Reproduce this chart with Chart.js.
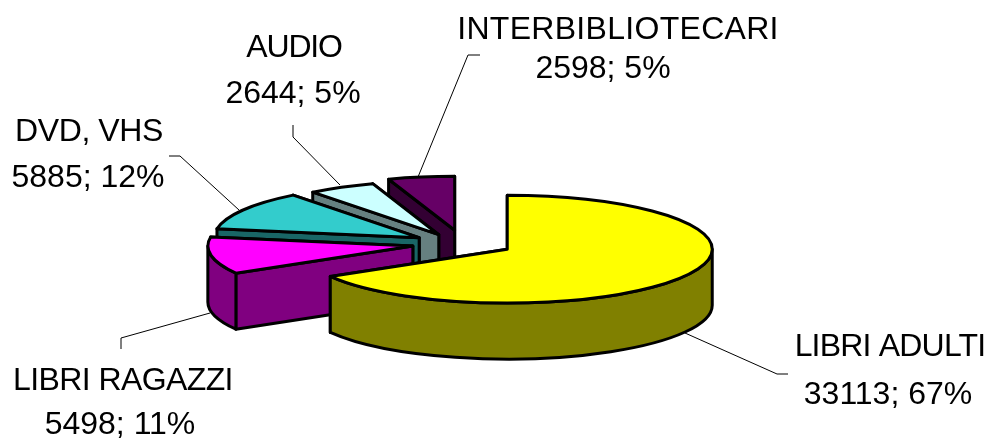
<!DOCTYPE html>
<html>
<head>
<meta charset="utf-8">
<style>html,body{margin:0;padding:0;background:#fff}canvas{display:block}</style>
<script src="https://cdn.jsdelivr.net/npm/chart.js@4"></script>
</head>
<body>
<canvas id="c" width="990" height="441"></canvas>
<script>
const categories = ['LIBRI ADULTI', 'LIBRI RAGAZZI', 'DVD, VHS', 'AUDIO', 'INTERBIBLIOTECARI'];
const values = [33113, 5498, 5885, 2644, 2598];
const topColors = ['#FFFF00', '#FF00FF', '#33CCCC', '#CCFFFF', '#660066'];
const wallColors = ['#808000', '#800080', '#196666', '#668080', '#330033'];

const TILT = 0.263, DEPTH = 56, EXPLODE = 51, RADIUS = 205;
const sliceDrop = [0, 1, 2, 4, 1];
const labelPlaces = [
  [[890, 347], [888, 395]],
  [[123, 381], [120, 425]],
  [[89, 132], [88, 178]],
  [[294, 48], [293, 94]],
  [[618, 30], [603, 69]]
];
const nameSpacing = [-0.8, -0.6, -0.4, -1.2, 0.3];
const leaders = [
  [[685, 333], [777, 374], [788, 374]],
  [[210, 313], [121, 338], [121, 349]],
  [[239, 210], [180, 156], [169, 156]],
  [[340, 185], [293, 137], [293, 125]],
  [[418, 177], [468, 55], [480, 55]]
];

const total = values.reduce((a, b) => a + b, 0);

const pie3d = {
  id: 'pie3d',
  beforeDatasetsDraw(chart) {
    const ctx = chart.ctx;
    const arcs = chart.getDatasetMeta(0).data;
    for (let i = arcs.length - 1; i >= 0; i--) {
      const arc = arcs[i];
      const s = arc.startAngle, e = arc.endAngle, r = arc.outerRadius;
      const mid = (s + e) / 2;
      const X = arc.x + Math.cos(mid) * EXPLODE;
      const Y = arc.y + Math.sin(mid) * EXPLODE * TILT + sliceDrop[i];
      const rim = a => [X + r * Math.cos(a), Y + r * TILT * Math.sin(a)];
      ctx.save();
      ctx.lineJoin = 'round';
      ctx.lineWidth = 3;
      ctx.strokeStyle = '#000';
      ctx.fillStyle = wallColors[i];
      for (const a of [e, s]) {
        const p = rim(a);
        ctx.beginPath();
        ctx.moveTo(X, Y);
        ctx.lineTo(p[0], p[1]);
        ctx.lineTo(p[0], p[1] + DEPTH);
        ctx.lineTo(X, Y + DEPTH);
        ctx.closePath();
        ctx.fill();
        ctx.stroke();
      }
      const a0 = Math.max(s, 0), a1 = Math.min(e, Math.PI);
      if (a1 > a0) {
        ctx.beginPath();
        ctx.ellipse(X, Y, r, r * TILT, 0, a0, a1);
        ctx.ellipse(X, Y + DEPTH, r, r * TILT, 0, a1, a0, true);
        ctx.closePath();
        ctx.fill();
        ctx.stroke();
      }
      ctx.save();
      ctx.translate(X, Y);
      ctx.scale(1, TILT);
      ctx.translate(-arc.x, -arc.y);
      arc.draw(ctx);
      ctx.restore();
      ctx.beginPath();
      ctx.moveTo(X, Y);
      ctx.ellipse(X, Y, r, r * TILT, 0, s, e);
      ctx.closePath();
      ctx.stroke();
      ctx.restore();
    }
    return false;
  },
  afterDraw(chart) {
    const ctx = chart.ctx;
    ctx.save();
    ctx.strokeStyle = '#000';
    ctx.lineWidth = 1;
    for (const line of leaders) {
      ctx.beginPath();
      line.forEach((p, i) => i ? ctx.lineTo(p[0], p[1]) : ctx.moveTo(p[0], p[1]));
      ctx.stroke();
    }
    ctx.fillStyle = '#000';
    ctx.font = '32px "Liberation Sans", Arial, sans-serif';
    ctx.textAlign = 'center';
    ctx.textBaseline = 'middle';
    categories.forEach((name, i) => {
      const pct = Math.round(values[i] / total * 100);
      ctx.letterSpacing = nameSpacing[i] + 'px';
      ctx.fillText(name, labelPlaces[i][0][0], labelPlaces[i][0][1]);
      ctx.letterSpacing = '0px';
      ctx.fillText(values[i] + '; ' + pct + '%', labelPlaces[i][1][0], labelPlaces[i][1][1]);
    });
    ctx.restore();
  }
};

new Chart(document.getElementById('c'), {
  type: 'pie',
  data: {
    labels: categories,
    datasets: [{ data: values, backgroundColor: topColors, borderWidth: 0 }]
  },
  options: {
    responsive: false,
    animation: false,
    radius: RADIUS,
    rotation: 0,
    layout: { padding: { left: 0, right: 64, top: 44, bottom: 0 } },
    plugins: { legend: { display: false }, tooltip: { enabled: false } }
  },
  plugins: [pie3d]
});
</script>
</body>
</html>
